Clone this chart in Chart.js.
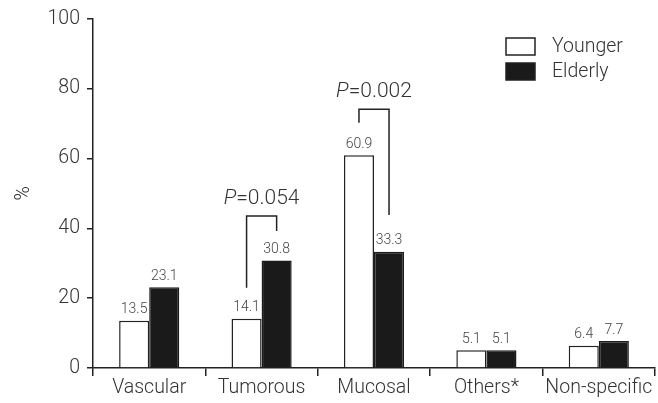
<!DOCTYPE html>
<html>
<head>
<meta charset="utf-8">
<script src="https://cdn.jsdelivr.net/npm/chart.js@4/dist/chart.umd.min.js"></script>
<style>
  html, body { margin: 0; padding: 0; background: #fff; }
  #wrap { width: 658px; height: 403px; }
</style>
</head>
<body>
<div id="wrap"><canvas id="bleedChart" width="658" height="403"></canvas></div>
<script>
// categories and values (%)
var categories = ["Vascular", "Tumorous", "Mucosal", "Others*", "Non-specific"];
var younger = [13.5, 14.1, 60.9, 5.1, 6.4];
var elderly = [23.1, 30.8, 33.3, 5.1, 7.7];
var yTicks = [0, 20, 40, 60, 80, 100];

// significance brackets: category index, p label, left leg bottom, right leg bottom, top
var pCategory = [1, 2];
var pLabels = ["0.054", "0.002"];
var pLeftBottom = [23, 70.2];
var pRightBottom = [39.2, 43.8];
var pTop = [43.5, 74.1];

var FONT = "Roboto, 'Liberation Sans', Arial, sans-serif";
var TEXT = "#333";

var annotations = {
    id: "annotations",
    afterDatasetsDraw: function (chart) {
        var ctx = chart.ctx;
        var y = chart.scales.y;
        ctx.save();

        // value labels over bars
        ctx.font = "300 14px " + FONT;
        ctx.fillStyle = "#444";
        ctx.textAlign = "center";
        ctx.textBaseline = "bottom";
        chart.data.datasets.forEach(function (ds, i) {
            chart.getDatasetMeta(i).data.forEach(function (bar, j) {
                ctx.fillText(ds.data[j].toFixed(1), bar.x, bar.y - 4);
            });
        });

        // p-value brackets
        ctx.strokeStyle = "#222";
        ctx.lineWidth = 1.5;
        pCategory.forEach(function (c, k) {
            var xl = chart.getDatasetMeta(0).data[c].x;
            var xr = chart.getDatasetMeta(1).data[c].x;
            var yt = y.getPixelForValue(pTop[k]);
            ctx.beginPath();
            ctx.moveTo(xl, y.getPixelForValue(pLeftBottom[k]));
            ctx.lineTo(xl, yt);
            ctx.lineTo(xr, yt);
            ctx.lineTo(xr, y.getPixelForValue(pRightBottom[k]));
            ctx.stroke();

            var cx = (xl + xr) / 2;
            var ty = yt - 12;
            ctx.textBaseline = "alphabetic";
            ctx.font = "italic 300 21px " + FONT;
            var pW = ctx.measureText("P").width;
            ctx.font = "300 21px " + FONT;
            var restW = ctx.measureText("=" + pLabels[k]).width;
            var x0 = cx - (pW + restW) / 2;
            ctx.fillStyle = TEXT;
            ctx.textAlign = "left";
            ctx.font = "italic 300 21px " + FONT;
            ctx.fillText("P", x0, ty);
            ctx.font = "300 21px " + FONT;
            ctx.fillText("=" + pLabels[k], x0 + pW, ty);
        });

        // legend
        var items = [["Younger", "#fff"], ["Elderly", "#1a1a1a"]];
        ctx.font = "300 19.5px " + FONT;
        ctx.textBaseline = "middle";
        ctx.textAlign = "left";
        items.forEach(function (it, i) {
            var top = 38 + i * 25;
            ctx.fillStyle = it[1];
            ctx.fillRect(506, top, 29, 17);
            ctx.strokeStyle = "#222";
            ctx.lineWidth = 1.5;
            ctx.strokeRect(506, top, 29, 17);
            ctx.fillStyle = TEXT;
            ctx.fillText(it[0], 552, top + 9);
        });

        ctx.restore();
    }
};

var ctx = document.getElementById("bleedChart").getContext("2d");
var bleedChart = new Chart(ctx, {
    type: "bar",
    data: {
        labels: categories,
        datasets: [
            {
                label: "Younger",
                data: younger,
                backgroundColor: "#fff",
                borderColor: "#222",
                borderWidth: 1.5,
                borderSkipped: "bottom",
            },
            {
                label: "Elderly",
                data: elderly,
                backgroundColor: "#1a1a1a",
                borderColor: "#1a1a1a",
                borderWidth: 1.5,
                borderSkipped: "bottom",
            },
        ],
    },
    options: {
        responsive: false,
        animation: false,
        datasets: {
            bar: { categoryPercentage: 0.535, barPercentage: 1 },
        },
        layout: { padding: { top: 13, right: 3, left: 0, bottom: 0 } },
        plugins: {
            legend: { display: false },
            tooltip: { enabled: false },
        },
        scales: {
            x: {
                offset: true,
                grid: {
                    display: true,
                    offset: true,
                    drawOnChartArea: false,
                    tickLength: 8,
                    color: "#222",
                    lineWidth: 1.5,
                },
                border: { color: "#222", width: 1.5 },
                ticks: {
                    color: TEXT,
                    font: { family: FONT, size: 19.5, weight: 300 },
                    padding: 0,
                    maxRotation: 0,
                },
                afterFit: function (axis) { axis.height = 35; },
            },
            y: {
                min: 0,
                max: 100,
                afterBuildTicks: function (axis) {
                    axis.ticks = yTicks.map(function (v) { return { value: v }; });
                },
                grid: {
                    display: true,
                    drawOnChartArea: false,
                    tickLength: 6,
                    color: "#222",
                    lineWidth: 1.5,
                },
                border: { color: "#222", width: 1.5 },
                ticks: {
                    color: TEXT,
                    font: { family: FONT, size: 19.5, weight: 300 },
                    padding: 7,
                },
                title: {
                    display: true,
                    text: "%",
                    color: TEXT,
                    font: { family: FONT, size: 19.5, weight: 300 },
                    padding: { top: 12, bottom: 0 },
                },
                afterFit: function (axis) { axis.width = 93; },
            },
        },
    },
    plugins: [annotations],
});
</script>
</body>
</html>
